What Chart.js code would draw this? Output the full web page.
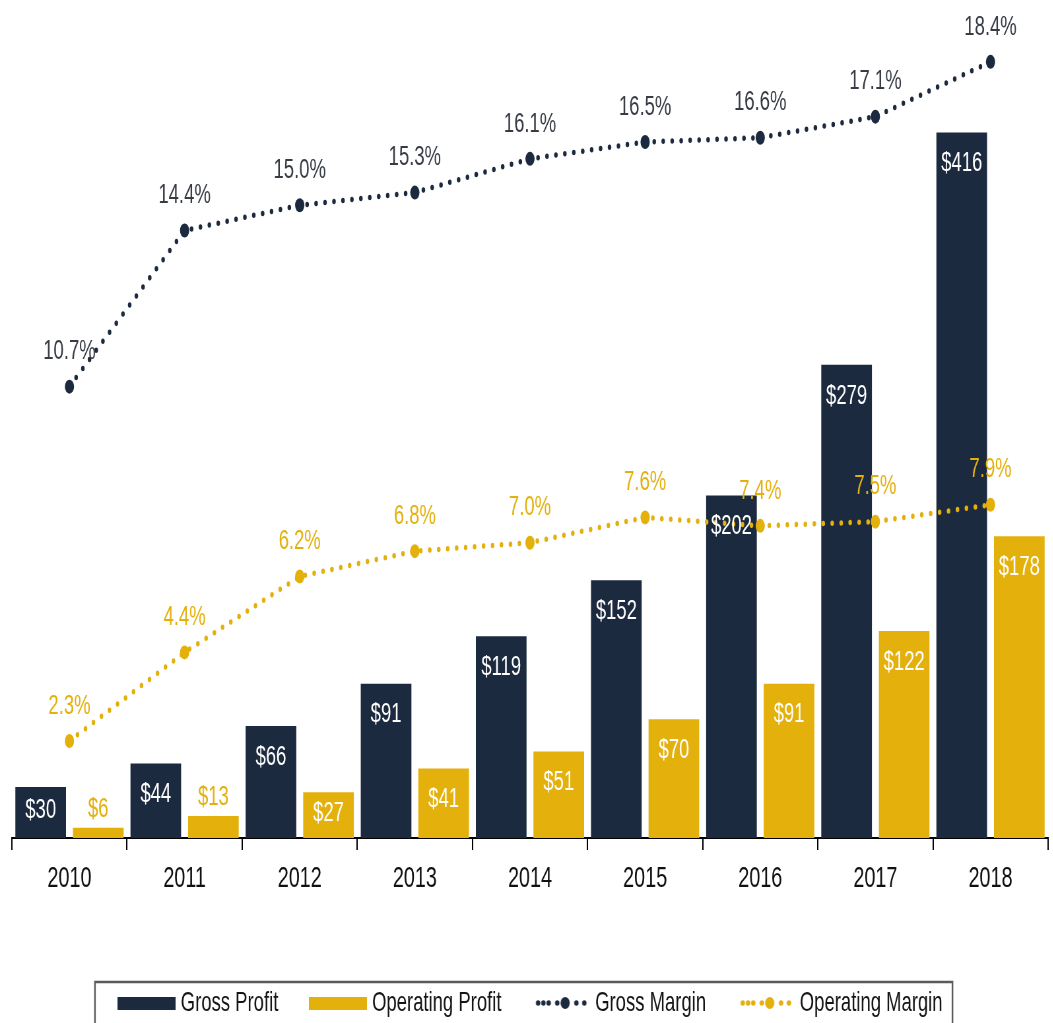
<!DOCTYPE html>
<html>
<head>
<meta charset="utf-8">
<title>Profit and Margin, 2010-2018</title>
<script src="https://cdn.jsdelivr.net/npm/chart.js@4.4.1/dist/chart.umd.min.js"></script>
<style>
  html, body { margin: 0; padding: 0; background: #fff; overflow: hidden; }
  /* the chart is laid out wide and squeezed horizontally, giving the tall condensed look */
  #wrap { width: 1595px; height: 1023px; transform: scaleX(0.66); transform-origin: 0 0; }
</style>
</head>
<body>
<div id="wrap"><canvas id="chart" width="1595" height="1023"></canvas></div>
<script>
const years = ['2010', '2011', '2012', '2013', '2014', '2015', '2016', '2017', '2018'];
const grossProfit = [30, 44, 66, 91, 119, 152, 202, 279, 416];
const operatingProfit = [6, 13, 27, 41, 51, 70, 91, 122, 178];
const grossMargin = [10.7, 14.4, 15.0, 15.3, 16.1, 16.5, 16.6, 17.1, 18.4];
const operatingMargin = [2.3, 4.4, 6.2, 6.8, 7.0, 7.6, 7.4, 7.5, 7.9];

const NAVY = '#1c2a3f';
const GOLD = '#e4b00c';
const FONT = '"Liberation Sans", Arial, sans-serif';

// little canvases used as legend markers
function barSwatch(color) {
  const c = document.createElement('canvas');
  c.width = 88; c.height = 13;
  const g = c.getContext('2d');
  g.fillStyle = color;
  g.fillRect(0, 0, 88, 13);
  return c;
}

function lineSwatch(color) {
  const c = document.createElement('canvas');
  c.width = 88; c.height = 16;
  const g = c.getContext('2d');
  const cx = 50;
  g.fillStyle = color;
  [-41, -33, -25, -12, 17, 29].forEach(dx => {
    g.beginPath();
    g.ellipse(cx + dx, 8, 3.4, 2.8, 0, 0, Math.PI * 2);
    g.fill();
  });
  g.beginPath();
  g.ellipse(cx, 8, 7, 6, 0, 0, Math.PI * 2);
  g.fill();
  return c;
}

const valueLabels = {
  id: 'valueLabels',
  afterDatasetsDraw(chart) {
    const ctx = chart.ctx;
    ctx.save();
    ctx.font = '28px ' + FONT;
    ctx.textAlign = 'center';
    ctx.textBaseline = 'middle';
    chart.data.datasets.forEach((ds, i) => {
      const meta = chart.getDatasetMeta(i);
      meta.data.forEach((el, j) => {
        const v = ds.data[j];
        if (ds.type === 'bar') {
          const h = el.base - el.y;
          const text = '$' + v;
          if (h > 30) {
            ctx.fillStyle = '#ffffff';
            ctx.fillText(text, el.x, el.y + Math.min(31, h / 2 - 2));
          } else {
            ctx.fillStyle = ds.backgroundColor;
            ctx.fillText(text, el.x, el.y - 19);
          }
        } else {
          ctx.fillStyle = ds.labelColor;
          ctx.fillText(v.toFixed(1) + '%', el.x, el.y - 35);
        }
      });
    });
    ctx.restore();
  }
};

// grey frame around the legend, open at the bottom edge
const legendFrame = {
  id: 'legendFrame',
  afterDraw(chart) {
    const boxes = chart.legend.legendHitBoxes;
    if (!boxes || !boxes.length) return;
    const first = boxes[0], last = boxes[boxes.length - 1];
    const left = first.left - 41;
    const right = last.left + last.width + 15;
    const top = first.top + first.height / 2 - 21;
    const ctx = chart.ctx;
    ctx.save();
    ctx.strokeStyle = '#5a5a5a';
    ctx.lineWidth = 2.5;
    ctx.strokeRect(left, top, right - left, 80);
    ctx.restore();
  }
};

const markers = [barSwatch(NAVY), barSwatch(GOLD), lineSwatch(NAVY), lineSwatch(GOLD)];

new Chart(document.getElementById('chart'), {
  type: 'bar',
  data: {
    labels: years,
    datasets: [
      {
        type: 'bar', label: 'Gross Profit', data: grossProfit,
        backgroundColor: NAVY, yAxisID: 'y', order: 2
      },
      {
        type: 'bar', label: 'Operating Profit', data: operatingProfit,
        backgroundColor: GOLD, yAxisID: 'y', order: 2
      },
      {
        type: 'line', label: 'Gross Margin', data: grossMargin, labelColor: '#363b44',
        borderColor: NAVY, backgroundColor: NAVY, borderWidth: 5.5,
        borderDash: [0, 13.6], borderCapStyle: 'round',
        pointRadius: 7, pointHoverRadius: 7, pointBorderWidth: 0,
        tension: 0, yAxisID: 'y2', order: 1
      },
      {
        type: 'line', label: 'Operating Margin', data: operatingMargin, labelColor: GOLD,
        borderColor: GOLD, backgroundColor: GOLD, borderWidth: 5.5,
        borderDash: [0, 13.6], borderCapStyle: 'round',
        pointRadius: 7, pointHoverRadius: 7, pointBorderWidth: 0,
        tension: 0, yAxisID: 'y2', order: 1
      }
    ]
  },
  options: {
    responsive: false,
    animation: false,
    devicePixelRatio: 1,
    layout: { padding: { left: 18, right: 0, top: 0, bottom: -4 } },
    datasets: {
      bar: { categoryPercentage: 1.0, barPercentage: 0.88 }
    },
    plugins: {
      tooltip: { enabled: false },
      legend: {
        position: 'bottom',
        labels: {
          usePointStyle: true,
          pointStyleWidth: 75,
          padding: 53,
          color: '#151515',
          font: { family: FONT, size: 28 },
          generateLabels(chart) {
            return chart.data.datasets.map((ds, i) => ({
              text: ds.label,
              pointStyle: markers[i],
              fillStyle: ds.backgroundColor,
              strokeStyle: ds.backgroundColor,
              lineWidth: 0,
              hidden: false,
              datasetIndex: i,
              fontColor: '#151515'
            }));
          }
        }
      }
    },
    scales: {
      x: {
        offset: true,
        grid: {
          offset: true, drawOnChartArea: false, drawTicks: true,
          tickLength: 12, color: '#000', lineWidth: 2
        },
        border: { display: true, color: '#000', width: 2 },
        ticks: { color: '#111', font: { family: FONT, size: 30 }, padding: 11 },
        afterFit(scale) { scale.height = 98; }
      },
      y: { display: false, min: 0, max: 490 },
      y2: { display: false, min: 0, max: 19.7 }
    }
  },
  plugins: [valueLabels, legendFrame]
});
</script>
</body>
</html>
